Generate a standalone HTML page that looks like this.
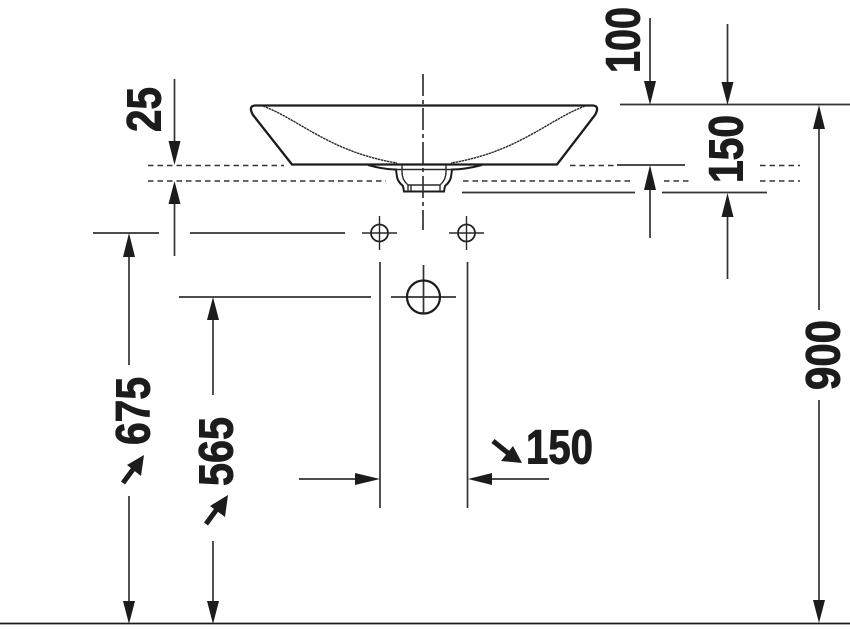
<!DOCTYPE html>
<html><head><meta charset="utf-8"><style>
html,body{margin:0;padding:0;background:#fff;width:850px;height:631px;overflow:hidden}
svg{display:block}
text{font-family:"Liberation Sans Narrow","Liberation Sans",sans-serif;font-weight:700;font-size:48px;fill:#1c1c1c;stroke:#1c1c1c;stroke-width:1}
.l{stroke:#333;stroke-width:1.7;fill:none}
.b{stroke:#1c1c1c;stroke-width:2.3;fill:none}
.d{stroke:#333;stroke-width:1.5;stroke-dasharray:5.500 4;fill:none}
.h{fill:#1c1c1c;stroke:none}
.n{stroke:#2a2a2a;stroke-width:1.4;fill:none}
</style></head><body>
<svg width="850" height="631" viewBox="0 0 850 631" xmlns="http://www.w3.org/2000/svg">
<rect width="850" height="631" fill="#fff"/>

<!-- basin -->
<path class="b" d="M292 164.500 L253 115 Q248 106 255 105.500 L593 105.500 Q600 106 595 115 L557 164.500 Z"/>
<path class="n" stroke-dasharray="2.500 .6" d="M263 106 C300 120 330 152 397 163"/>
<path class="n" stroke-dasharray="2.500 .6" d="M585 106 C548 120 518 152 451 163"/>
<!-- drain -->
<path class="b" style="stroke-width:2" d="M368 165 Q384 169.500 396 169.500 L397 177 Q398 182 403 186 L404 191.500 L444 191.500 L445 186 Q450 182 451 177 L452 169.500 Q465 169.500 482 165"/>
<path class="n" d="M396 169.500 L452 169.500 M402 165 L402 172 Q402 180 408 185 L440 185 Q446 180 446 172 L446 165 M408 185 L408 191 M440 185 L440 191 M411 185 L411 191"/>

<!-- centre line -->
<path class="l" stroke-dasharray="22 4 4 4" d="M423 74 L423 230"/>

<!-- dashed lines -->
<path class="d" d="M148 165.500 L284 165.500 M570 165.500 L615 165.500 M760 165.500 L800 165.500"/>
<path class="d" d="M148 181 L386 181 M463 181 L632 181 M664 181 L692 181 M760 181 L800 181"/>

<!-- extension lines -->
<path class="l" d="M620 104.500 L850 104.500 M617 165 L685 165 M462 192.500 L635 192.500 M662 192.500 L767 192.500
M93 233 L159 233 M190 233 L345 233 M179 297 L371 297 M391 297 L456 297 M423.500 265 L423.500 313
M380 262 L380 508 M467.500 262 L467.500 508"/>
<path d="M0 623.500 L850 623.500" stroke="#1c1c1c" stroke-width="1.800"/>

<!-- holes -->
<circle cx="379.500" cy="233" r="8.500" fill="none" stroke="#222" stroke-width="1.800"/><path class="n" d="M362 233 L397 233 M379.500 216 L379.500 250"/>
<circle cx="466.500" cy="233" r="8.500" fill="none" stroke="#222" stroke-width="1.800"/><path class="n" d="M449 233 L484 233 M466.500 216 L466.500 250"/>
<circle cx="423.500" cy="297" r="16.500" fill="none" stroke="#1c1c1c" stroke-width="2.200"/>

<!-- dimension shafts -->
<path class="l" d="M650 18 L650 82 M727.500 24 L727.500 82 M819 128 L819 310 M819 400 L819 602
M650 188 L650 238 M727.500 215 L727.500 279 M174.500 79 L174.500 143 M174.500 203 L174.500 256
M129 256 L129 365 M129 496 L129 602 M213 320 L213 395 M213 541 L213 602
M299 479 L357 479 M490 479 L549 479"/>

<!-- arrowheads -->
<g class="h">
<path d="M644 81 L656 81 L650 105 Z"/>
<path d="M721.500 82 L733.500 82 L727.500 105 Z"/>
<path d="M813 129 L825 129 L819 105 Z"/>
<path d="M813 600 L825 600 L819 623 Z"/>
<path d="M644 190 L656 190 L650 165 Z"/>
<path d="M721.500 217 L733.500 217 L727.500 193 Z"/>
<path d="M168.500 141 L180.500 141 L174.500 165 Z"/>
<path d="M168.500 204 L180.500 204 L174.500 181 Z"/>
<path d="M123 257 L135 257 L129 233 Z"/>
<path d="M123 601 L135 601 L129 624 Z"/>
<path d="M207 320 L219 320 L213 297 Z"/>
<path d="M207 601 L219 601 L213 624 Z"/>
<path d="M355 473 L355 485 L380 479 Z"/>
<path d="M492 473 L492 485 L468 479 Z"/>
</g>

<!-- leader arrows -->
<path d="M123 483 L134 468" stroke="#1c1c1c" stroke-width="5" fill="none"/>
<path class="h" d="M144 455 L141 476 L127 465 Z"/>
<path d="M206 524 L217 509" stroke="#1c1c1c" stroke-width="5" fill="none"/>
<path class="h" d="M228 495 L225 517 L210 506 Z"/>
<path d="M493 441 L508 453" stroke="#1c1c1c" stroke-width="5" fill="none"/>
<path class="h" d="M522 463 L501 461 L513 446 Z"/>

<!-- labels -->
<text x="526" y="463.500" textLength="67" lengthAdjust="spacingAndGlyphs">150</text>
<text transform="translate(639.500 73) rotate(-90)" textLength="66" lengthAdjust="spacingAndGlyphs">100</text>
<text transform="translate(742.500 183) rotate(-90)" textLength="68" lengthAdjust="spacingAndGlyphs">150</text>
<text transform="translate(160.500 132) rotate(-90)" textLength="45" lengthAdjust="spacingAndGlyphs">25</text>
<text transform="translate(149.500 445) rotate(-90)" textLength="68" lengthAdjust="spacingAndGlyphs">675</text>
<text transform="translate(232.500 486) rotate(-90)" textLength="69" lengthAdjust="spacingAndGlyphs">565</text>
<text transform="translate(839.500 390) rotate(-90)" textLength="70" lengthAdjust="spacingAndGlyphs">900</text>
</svg>
</body></html>
